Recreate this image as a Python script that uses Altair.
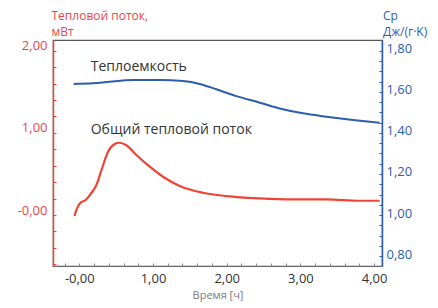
import altair as alt
import pandas as pd

# ---- data ----
flow_t = [-0.066, -0.040, -0.010, 0.030, 0.073, 0.160, 0.232, 0.300, 0.390, 0.480, 0.539, 0.639, 0.775, 0.955,
          1.136, 1.362, 1.678, 1.996, 2.447, 2.90, 3.353, 3.805, 4.076]
flow_v = [-0.012, 0.060, 0.120, 0.160, 0.175, 0.265, 0.365, 0.545, 0.770, 0.864, 0.880, 0.85, 0.73, 0.588,
          0.466, 0.353, 0.271, 0.231, 0.203, 0.191, 0.191, 0.174, 0.174]

cp_t = [-0.076, 0.186, 0.412, 0.729, 1.091, 1.407, 1.634, 1.860, 2.132, 2.448, 2.719,
        3.035, 3.353, 3.714, 4.076]
cp_v = [1.638, 1.641, 1.649, 1.657, 1.657, 1.652, 1.638, 1.612, 1.579, 1.547, 1.519,
        1.495, 1.479, 1.463, 1.449]

ann_text = ["Теплоемкость", "Общий тепловой поток"]
ann_t = [0.155, 0.155]
ann_v = [1.80, 1.034]   # on heat-flow scale

x_labels = [0, 1, 2, 3, 4]
x_minor = [round(-0.2 + 0.2 * i, 2) for i in range(22)]
left_labels = [0, 1, 2]
left_minor = [round(-0.6 + 0.2 * i, 2) for i in range(14)]
right_labels = [0.8, 1.0, 1.2, 1.4, 1.6, 1.8]
right_minor = [round(0.75 + 0.05 * i, 2) for i in range(22)]

X_DOM = [-0.357, 4.107]
L_DOM = [-0.620, 2.130]
R_DOM = [0.752, 1.852]

W, H = 329, 226
RED = "#ee4433"
RED_T = "#e8464a"
BLUE = "#2d5daf"
FONT = "Open Sans"

flow = pd.DataFrame({"t": flow_t, "v": flow_v})
cp = pd.DataFrame({"t": cp_t, "v": cp_v})
ann = pd.DataFrame({"label": ann_text, "t": ann_t, "v": ann_v})

num_expr = "replace(format(datum.value, '.2f'), '.', ',')"
zero_expr = "datum.value == 0 ? '-0,00' : " + num_expr

xs = alt.Scale(domain=X_DOM, nice=False, zero=False)
ls = alt.Scale(domain=L_DOM, nice=False, zero=False)
rs = alt.Scale(domain=R_DOM, nice=False, zero=False)

# red heat flow with bottom x axis and left y axis
red = alt.Chart(flow).mark_line(color=RED, strokeWidth=2.2, interpolate="monotone").encode(
    x=alt.X("t:Q", scale=xs, axis=alt.Axis(
        values=x_labels, labelExpr=zero_expr, ticks=False, grid=False,
        domainColor="#666666", labelColor="#333333", labelFont=FONT, labelFontSize=13,
        labelPadding=6, title="Время [ч]", titleFont=FONT, titleFontSize=11,
        titleFontWeight="normal", titleColor="#7a7a7a", titlePadding=4)),
    y=alt.Y("v:Q", scale=ls, axis=alt.Axis(
        orient="left", values=left_labels, labelExpr=zero_expr, ticks=False, grid=False,
        domainColor=RED, domainWidth=1.5, labelColor=RED_T, labelFont=FONT, labelFontSize=13,
        labelOffset=-5, labelPadding=6,
        title=["Тепловой поток,", "мВт"], titleAngle=0, titleAlign="left",
        titleBaseline="alphabetic", titleX=-2, titleY=-21, titleLineHeight=16,
        titleFont=FONT, titleFontSize=12, titleFontWeight="normal", titleColor=RED_T)),
)

# blue heat capacity with right y axis
blue = alt.Chart(cp).mark_line(color=BLUE, strokeWidth=2, interpolate="monotone").encode(
    x=alt.X("t:Q", scale=xs, axis=None),
    y=alt.Y("v:Q", scale=rs, axis=alt.Axis(
        orient="right", values=right_labels, labelExpr=num_expr, ticks=False, grid=False,
        domainColor=BLUE, domainWidth=1.5, labelColor=BLUE, labelFont=FONT, labelFontSize=13,
        labelOffset=-2, labelPadding=4,
        title=["Ср", "Дж/(г·K)"], titleAngle=0, titleAlign="left",
        titleBaseline="alphabetic", titleX=0.5, titleY=-21, titleLineHeight=16,
        titleFont=FONT, titleFontSize=12, titleFontWeight="normal", titleColor=BLUE)),
)

# inward-pointing ticks: x ticks (top-oriented axis moved to bottom), red ticks on left edge
ticks_a = alt.Chart(flow).mark_line(opacity=0).encode(
    x=alt.X("t:Q", scale=xs, axis=alt.Axis(
        orient="top", offset=-H, values=x_minor, labels=False, domain=False, grid=False,
        ticks=True, tickSize=3, tickColor="#888888", title=None)),
    y=alt.Y("v:Q", scale=ls, axis=alt.Axis(
        orient="right", offset=-W, values=left_minor, labels=False, domain=False, grid=False,
        ticks=True, tickSize=3, tickColor=RED, title=None)),
)

# blue ticks on right edge pointing inward
ticks_b = alt.Chart(cp).mark_line(opacity=0).encode(
    x=alt.X("t:Q", scale=xs, axis=None),
    y=alt.Y("v:Q", scale=rs, axis=alt.Axis(
        orient="left", offset=-W, values=right_minor, labels=False, domain=False, grid=False,
        ticks=True, tickSize=3, tickColor=BLUE, title=None)),
)

labels = alt.Chart(ann).mark_text(align="left", baseline="middle", font=FONT, fontSize=14,
                                  color="#333333").encode(
    x=alt.X("t:Q", scale=xs, axis=None),
    y=alt.Y("v:Q", scale=ls, axis=None),
    text="label:N",
)

chart = alt.layer(red, blue, ticks_a, ticks_b, labels).resolve_scale(
    x="independent", y="independent"
).resolve_axis(
    x="independent", y="independent"
).properties(
    width=W, height=H,
    autosize=alt.AutoSizeParams(type="none"),
    padding={"left": 45, "top": 32, "right": 48, "bottom": 38},
).configure_view(stroke="#555555", strokeWidth=1.2)

chart.save("out.html", embed_options={"renderer": "svg", "actions": False})
